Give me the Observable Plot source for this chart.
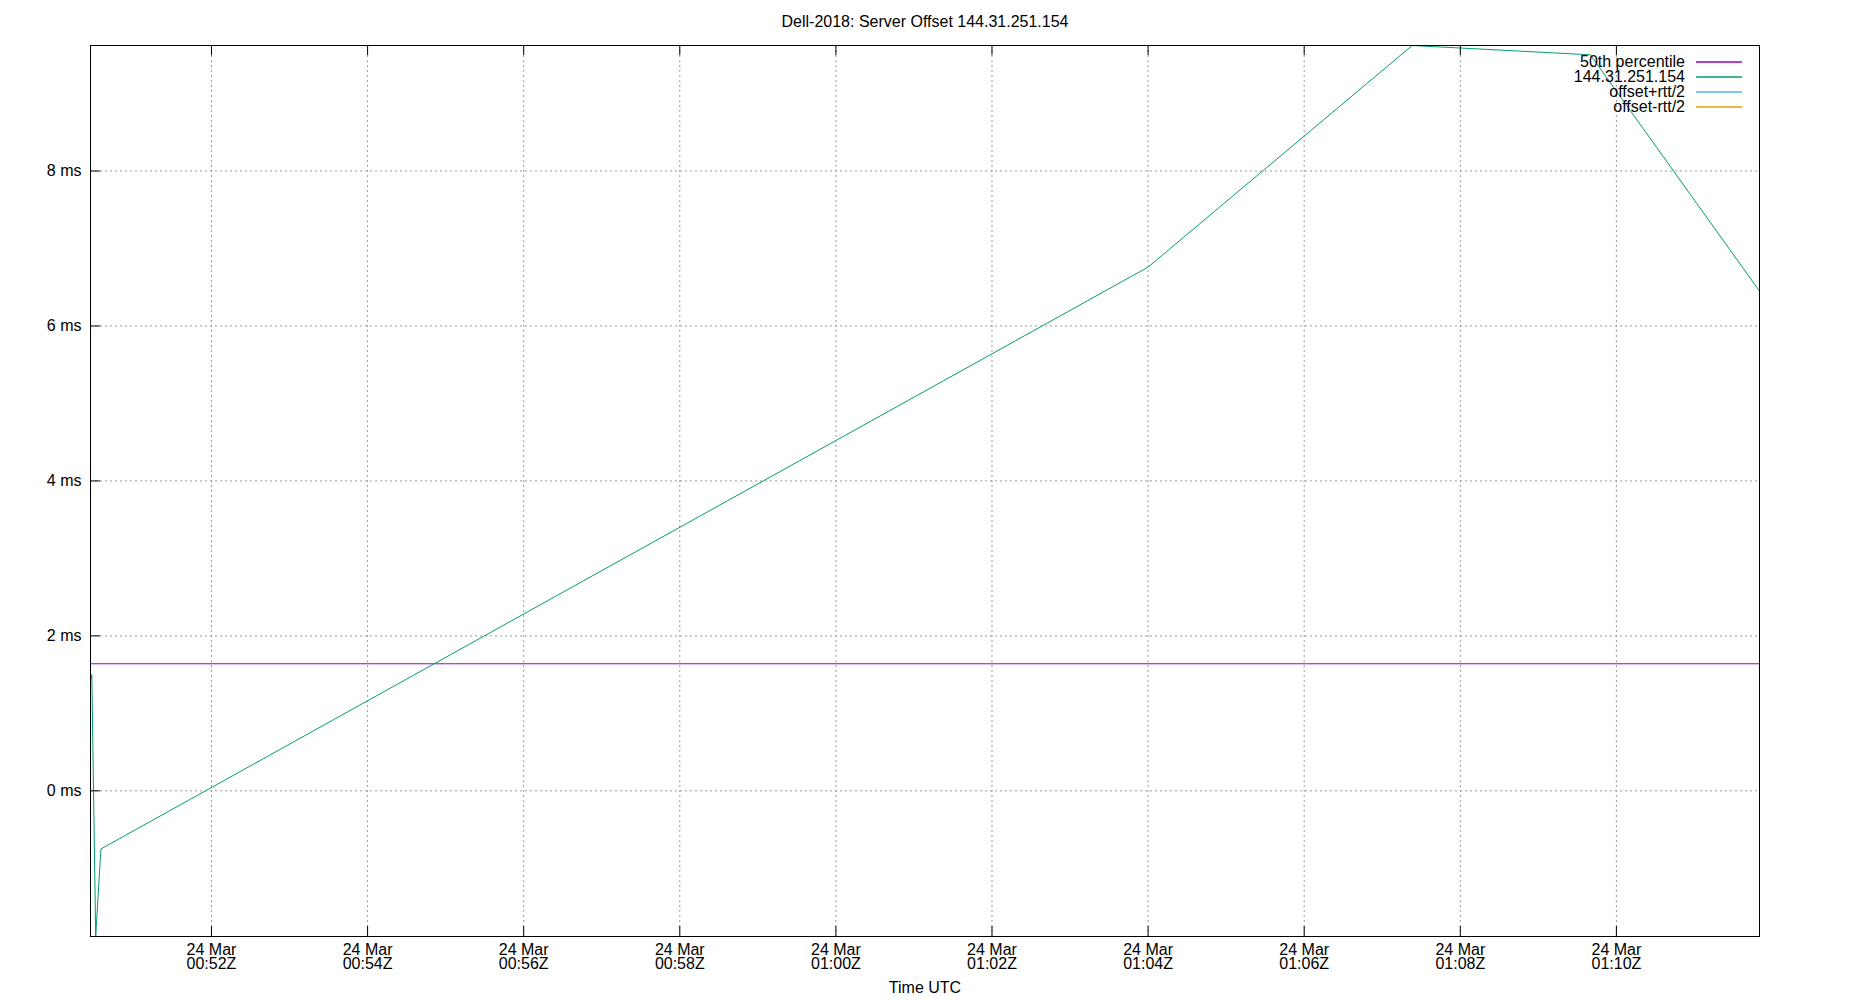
<!DOCTYPE html>
<html>
<head>
<meta charset="utf-8">
<script src="https://cdn.jsdelivr.net/npm/d3@7"></script>
<script src="https://cdn.jsdelivr.net/npm/@observablehq/plot@0.6"></script>
<style>
  html, body { margin: 0; padding: 0; background: #fff; }
  #wrap { position: relative; width: 1850px; height: 1000px; font-family: "Liberation Sans", Arial, sans-serif; }
  #legend { position: absolute; left: 0; top: 0; width: 1850px; height: 0; }
  .lg-row { position: absolute; right: 165px; height: 15px; line-height: 15px; font-size: 16px; color: #000; text-align: right; white-space: nowrap; }
  .lg-sw { position: absolute; left: 1696px; width: 46px; }
</style>
</head>
<body>
<div id="wrap">
  <div id="chart"></div>
  <div id="legend"></div>
</div>
<script>
// ---- data ----
const titleText = "Dell-2018: Server Offset 144.31.251.154";
const xLabel = "Time UTC";
const times = [
  "2018-03-24T00:50:27Z",
  "2018-03-24T00:50:28Z",
  "2018-03-24T00:50:31Z",
  "2018-03-24T00:50:35Z",
  "2018-03-24T01:04:00Z",
  "2018-03-24T01:07:23Z",
  "2018-03-24T01:09:40Z",
  "2018-03-24T01:11:50Z"
];
const offsets = [1.40, 1.50, -1.88, -0.75, 6.76, 9.62, 9.50, 6.45];
const medianOffset = 1.64;
const yTicks = [0, 2, 4, 6, 8];
const xTickTimes = [
  "2018-03-24T00:52:00Z", "2018-03-24T00:54:00Z", "2018-03-24T00:56:00Z",
  "2018-03-24T00:58:00Z", "2018-03-24T01:00:00Z", "2018-03-24T01:02:00Z",
  "2018-03-24T01:04:00Z", "2018-03-24T01:06:00Z", "2018-03-24T01:08:00Z",
  "2018-03-24T01:10:00Z"
];
const legendLabels = ["50th percentile", "144.31.251.154", "offset+rtt/2", "offset-rtt/2"];
const legendColors = ["#9400d3", "#009e73", "#56b4e9", "#e69f00"];

// ---- build ----
const points = times.map((t, i) => ({time: new Date(t), offset: offsets[i]}));
const xTicks = xTickTimes.map(t => new Date(t));
const W = 1850, H = 1000;
const mL = 90, mR = 91, mT = 45, mB = 64;
const plotW = W - mL - mR, plotH = H - mT - mB;
const fmtTick = d3.utcFormat("%d %b\n%H:%MZ");
const gridStyle = {stroke: "#999", strokeOpacity: 1, strokeWidth: 1, strokeDasharray: "2,3"};

const chart = Plot.plot({
  width: W,
  height: H,
  marginLeft: mL, marginRight: mR, marginTop: mT, marginBottom: mB,
  style: {fontFamily: "'Liberation Sans', Arial, sans-serif", fontSize: "16px", background: "#fff", color: "#000"},
  x: {type: "utc", domain: d3.extent(points, d => d.time), axis: null},
  y: {domain: d3.extent(offsets), axis: null},
  marks: [
    Plot.gridX(xTicks, gridStyle),
    Plot.gridY(yTicks, gridStyle),
    Plot.ruleY([medianOffset], {stroke: legendColors[0], strokeWidth: 1}),
    Plot.line(points, {x: "time", y: "offset", stroke: legendColors[1], strokeWidth: 1}),
    // inward ticks
    Plot.tickY(yTicks, {y: d => d, stroke: "#000", insetRight: plotW - 10}),
    Plot.tickX(xTicks, {x: d => d, stroke: "#000", insetTop: plotH - 10}),
    Plot.tickX(xTicks, {x: d => d, stroke: "#000", insetBottom: plotH - 10}),
    Plot.frame({stroke: "#000", strokeWidth: 1}),
    // tick labels
    Plot.text(yTicks, {y: d => d, text: d => `${d} ms`, frameAnchor: "left", dx: -9, textAnchor: "end", fontSize: 16, fill: "#000"}),
    Plot.text(xTicks, {x: d => d, text: d => fmtTick(d), frameAnchor: "bottom", dy: 9, lineAnchor: "top", lineHeight: 0.875, textAnchor: "middle", fontSize: 16, fill: "#000"}),
    // axis label and title
    Plot.text([xLabel], {text: d => d, frameAnchor: "bottom", dy: 51, lineAnchor: "middle", fontSize: 16, fill: "#000"}),
    Plot.text([titleText], {text: d => d, frameAnchor: "top", dy: -24, lineAnchor: "middle", fontSize: 16, fill: "#000"})
  ]
});
document.getElementById("chart").appendChild(chart);

// ---- legend (top-right, inside frame) ----
const legend = document.getElementById("legend");
legendLabels.forEach((lab, i) => {
  const cy = 62 + i * 15;
  const row = document.createElement("div");
  row.className = "lg-row";
  row.style.top = (cy - 8.5) + "px";
  row.textContent = lab;
  legend.appendChild(row);
  const sw = document.createElementNS("http://www.w3.org/2000/svg", "svg");
  sw.setAttribute("class", "lg-sw");
  sw.setAttribute("width", 46);
  sw.setAttribute("height", 4);
  sw.style.top = (cy - 2) + "px";
  const ln = document.createElementNS("http://www.w3.org/2000/svg", "line");
  ln.setAttribute("x1", 0); ln.setAttribute("x2", 46);
  ln.setAttribute("y1", 2); ln.setAttribute("y2", 2);
  ln.setAttribute("stroke", legendColors[i]);
  ln.setAttribute("stroke-width", 1.5);
  sw.appendChild(ln);
  legend.appendChild(sw);
});
</script>
</body>
</html>
